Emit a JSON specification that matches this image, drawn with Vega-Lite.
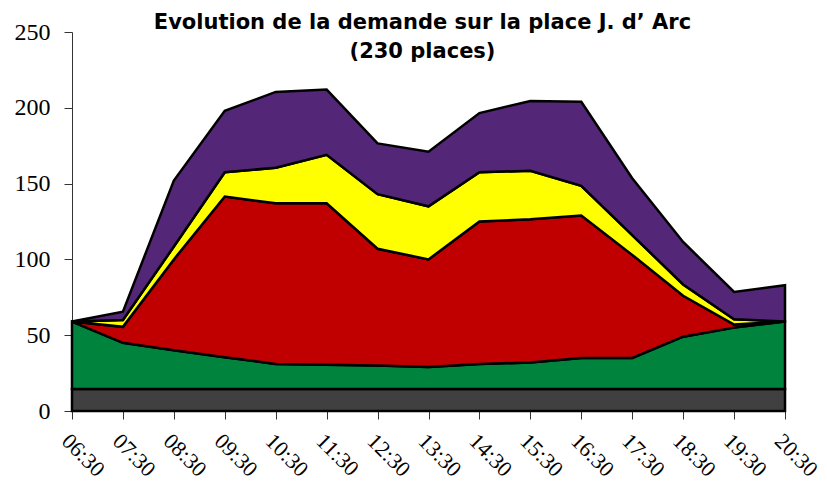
{
  "$schema": "https://vega.github.io/schema/vega-lite/v6.json",
  "autosize": "none",
  "width": 713,
  "height": 379,
  "padding": {"left": 72, "top": 32, "right": 42, "bottom": 71},
  "background": "white",
  "title": {
    "text": ["Evolution de la demande sur la place J. d’ Arc", "(230 places)"],
    "font": "DejaVu Sans",
    "fontSize": 21,
    "fontWeight": "bold",
    "color": "black",
    "anchor": "middle",
    "baseline": "top",
    "lineHeight": 29,
    "offset": -42,
    "dx": -6
  },
  "data": {
    "values": [
      {"t": "06:30", "s": "Base", "o": 1, "v": 14.5},
      {"t": "07:30", "s": "Base", "o": 1, "v": 14.5},
      {"t": "08:30", "s": "Base", "o": 1, "v": 14.5},
      {"t": "09:30", "s": "Base", "o": 1, "v": 14.5},
      {"t": "10:30", "s": "Base", "o": 1, "v": 14.5},
      {"t": "11:30", "s": "Base", "o": 1, "v": 14.5},
      {"t": "12:30", "s": "Base", "o": 1, "v": 14.5},
      {"t": "13:30", "s": "Base", "o": 1, "v": 14.5},
      {"t": "14:30", "s": "Base", "o": 1, "v": 14.5},
      {"t": "15:30", "s": "Base", "o": 1, "v": 14.5},
      {"t": "16:30", "s": "Base", "o": 1, "v": 14.5},
      {"t": "17:30", "s": "Base", "o": 1, "v": 14.5},
      {"t": "18:30", "s": "Base", "o": 1, "v": 14.5},
      {"t": "19:30", "s": "Base", "o": 1, "v": 14.5},
      {"t": "20:30", "s": "Base", "o": 1, "v": 14.5},
      {"t": "06:30", "s": "Vert", "o": 2, "v": 44.5},
      {"t": "07:30", "s": "Vert", "o": 2, "v": 30.5},
      {"t": "08:30", "s": "Vert", "o": 2, "v": 25.5},
      {"t": "09:30", "s": "Vert", "o": 2, "v": 21},
      {"t": "10:30", "s": "Vert", "o": 2, "v": 16.5},
      {"t": "11:30", "s": "Vert", "o": 2, "v": 16},
      {"t": "12:30", "s": "Vert", "o": 2, "v": 15.5},
      {"t": "13:30", "s": "Vert", "o": 2, "v": 14.5},
      {"t": "14:30", "s": "Vert", "o": 2, "v": 16.5},
      {"t": "15:30", "s": "Vert", "o": 2, "v": 17.5},
      {"t": "16:30", "s": "Vert", "o": 2, "v": 20.5},
      {"t": "17:30", "s": "Vert", "o": 2, "v": 20.5},
      {"t": "18:30", "s": "Vert", "o": 2, "v": 34.5},
      {"t": "19:30", "s": "Vert", "o": 2, "v": 40.5},
      {"t": "20:30", "s": "Vert", "o": 2, "v": 44.5},
      {"t": "06:30", "s": "Rouge", "o": 3, "v": 0},
      {"t": "07:30", "s": "Rouge", "o": 3, "v": 10.5},
      {"t": "08:30", "s": "Rouge", "o": 3, "v": 60},
      {"t": "09:30", "s": "Rouge", "o": 3, "v": 106},
      {"t": "10:30", "s": "Rouge", "o": 3, "v": 106},
      {"t": "11:30", "s": "Rouge", "o": 3, "v": 106.5},
      {"t": "12:30", "s": "Rouge", "o": 3, "v": 77},
      {"t": "13:30", "s": "Rouge", "o": 3, "v": 71},
      {"t": "14:30", "s": "Rouge", "o": 3, "v": 94},
      {"t": "15:30", "s": "Rouge", "o": 3, "v": 94.5},
      {"t": "16:30", "s": "Rouge", "o": 3, "v": 94},
      {"t": "17:30", "s": "Rouge", "o": 3, "v": 68},
      {"t": "18:30", "s": "Rouge", "o": 3, "v": 27},
      {"t": "19:30", "s": "Rouge", "o": 3, "v": 2},
      {"t": "20:30", "s": "Rouge", "o": 3, "v": 0},
      {"t": "06:30", "s": "Jaune", "o": 4, "v": 0},
      {"t": "07:30", "s": "Jaune", "o": 4, "v": 4.5},
      {"t": "08:30", "s": "Jaune", "o": 4, "v": 8.5},
      {"t": "09:30", "s": "Jaune", "o": 4, "v": 16},
      {"t": "10:30", "s": "Jaune", "o": 4, "v": 23.5},
      {"t": "11:30", "s": "Jaune", "o": 4, "v": 32},
      {"t": "12:30", "s": "Jaune", "o": 4, "v": 36},
      {"t": "13:30", "s": "Jaune", "o": 4, "v": 35},
      {"t": "14:30", "s": "Jaune", "o": 4, "v": 32.5},
      {"t": "15:30", "s": "Jaune", "o": 4, "v": 32},
      {"t": "16:30", "s": "Jaune", "o": 4, "v": 19.5},
      {"t": "17:30", "s": "Jaune", "o": 4, "v": 13},
      {"t": "18:30", "s": "Jaune", "o": 4, "v": 7.5},
      {"t": "19:30", "s": "Jaune", "o": 4, "v": 3.5},
      {"t": "20:30", "s": "Jaune", "o": 4, "v": 0},
      {"t": "06:30", "s": "Violet", "o": 5, "v": 0},
      {"t": "07:30", "s": "Violet", "o": 5, "v": 5.5},
      {"t": "08:30", "s": "Violet", "o": 5, "v": 43.5},
      {"t": "09:30", "s": "Violet", "o": 5, "v": 40.5},
      {"t": "10:30", "s": "Violet", "o": 5, "v": 50},
      {"t": "11:30", "s": "Violet", "o": 5, "v": 43},
      {"t": "12:30", "s": "Violet", "o": 5, "v": 33.5},
      {"t": "13:30", "s": "Violet", "o": 5, "v": 36},
      {"t": "14:30", "s": "Violet", "o": 5, "v": 39},
      {"t": "15:30", "s": "Violet", "o": 5, "v": 46},
      {"t": "16:30", "s": "Violet", "o": 5, "v": 55.5},
      {"t": "17:30", "s": "Violet", "o": 5, "v": 37.5},
      {"t": "18:30", "s": "Violet", "o": 5, "v": 28},
      {"t": "19:30", "s": "Violet", "o": 5, "v": 18},
      {"t": "20:30", "s": "Violet", "o": 5, "v": 24}
    ]
  },
  "mark": {"type": "area", "stroke": "black", "strokeWidth": 2.5, "strokeJoin": "miter", "opacity": 1, "fillOpacity": 1},
  "encoding": {
    "x": {
      "field": "t",
      "type": "ordinal",
      "sort": null,
      "scale": {"type": "point", "padding": 0},
      "axis": {
        "title": null,
        "labelAngle": 45,
        "labelAlign": "left",
        "labelBaseline": "top",
        "labelFont": "Liberation Serif",
        "labelFontSize": 22,
        "labelColor": "black",
        "labelPadding": 11,
        "tickSize": 8,
        "tickColor": "#333",
        "domainColor": "#333",
        "grid": false
      }
    },
    "y": {
      "field": "v",
      "type": "quantitative",
      "stack": "zero",
      "scale": {"domain": [0, 250], "nice": false},
      "axis": {
        "title": null,
        "values": [0, 50, 100, 150, 200, 250],
        "labelFont": "Liberation Serif",
        "labelFontSize": 24,
        "labelColor": "black",
        "labelPadding": 14,
        "tickSize": 8,
        "tickColor": "#333",
        "domainColor": "#333",
        "grid": false
      }
    },
    "color": {
      "field": "s",
      "type": "nominal",
      "scale": {
        "domain": ["Base", "Vert", "Rouge", "Jaune", "Violet"],
        "range": ["#404040", "#00843D", "#C00000", "#FFFF00", "#542677"]
      },
      "legend": null
    },
    "order": {"field": "o", "type": "quantitative"}
  },
  "config": {"view": {"stroke": null}}
}
